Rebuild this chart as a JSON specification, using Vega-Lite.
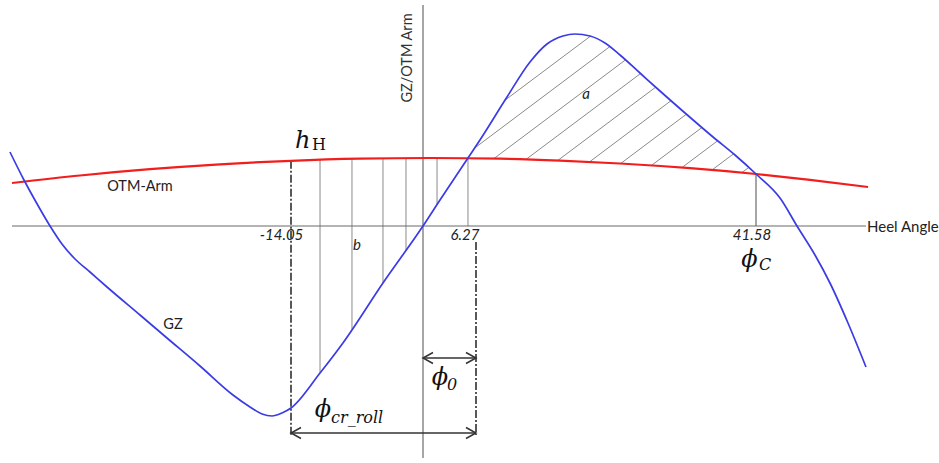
{
  "$schema": "https://vega.github.io/schema/vega-lite/v6.json",
  "width": 939,
  "height": 463,
  "autosize": {"type": "fit", "contains": "padding"},
  "padding": 0,
  "background": "white",
  "config": {"view": {"stroke": null}},
  "datasets": {
    "gz": [
      {"x": -43.94, "y": 0.74}, {"x": -42.45, "y": 0.46}, {"x": -41.17, "y": 0.24}, {"x": -39.68, "y": 0},
      {"x": -38.41, "y": -0.18}, {"x": -37.02, "y": -0.33}, {"x": -35.43, "y": -0.46}, {"x": -33.62, "y": -0.61},
      {"x": -30.11, "y": -0.89}, {"x": -27.24, "y": -1.12}, {"x": -23.73, "y": -1.4}, {"x": -20.22, "y": -1.69},
      {"x": -18.41, "y": -1.81}, {"x": -17.13, "y": -1.88}, {"x": -16.07, "y": -1.9}, {"x": -15.01, "y": -1.87},
      {"x": -14.05, "y": -1.82}, {"x": -10.96, "y": -1.47}, {"x": -8.52, "y": -1.17}, {"x": -4.26, "y": -0.57},
      {"x": 0, "y": 0}, {"x": 2.01, "y": 0.26}, {"x": 5.32, "y": 0.68}, {"x": 6.77, "y": 0.86},
      {"x": 10.18, "y": 1.29}, {"x": 13.08, "y": 1.64}, {"x": 15.22, "y": 1.82}, {"x": 17.24, "y": 1.9},
      {"x": 18.75, "y": 1.92}, {"x": 20.65, "y": 1.9}, {"x": 22.54, "y": 1.83}, {"x": 24.43, "y": 1.71},
      {"x": 26.95, "y": 1.53}, {"x": 29.47, "y": 1.35}, {"x": 32.63, "y": 1.13}, {"x": 36.16, "y": 0.89},
      {"x": 38.93, "y": 0.71}, {"x": 41.58, "y": 0.52}, {"x": 44.61, "y": 0.28}, {"x": 46.75, "y": 0},
      {"x": 49.02, "y": -0.29}, {"x": 50.91, "y": -0.57}, {"x": 53.18, "y": -0.97}, {"x": 55.45, "y": -1.41}
    ],
    "otm": [
      {"x": -43.72, "y": 0.43}, {"x": -36.49, "y": 0.505}, {"x": -29.05, "y": 0.568}, {"x": -21.6, "y": 0.617},
      {"x": -14.05, "y": 0.652}, {"x": -6.71, "y": 0.673}, {"x": 0.83, "y": 0.68}, {"x": 9.3, "y": 0.673},
      {"x": 16.86, "y": 0.654}, {"x": 24.43, "y": 0.625}, {"x": 33.26, "y": 0.578}, {"x": 41.58, "y": 0.52},
      {"x": 48.39, "y": 0.462}, {"x": 55.71, "y": 0.39}
    ],
    "hatch": [
      {"x": -10.96, "y": 0.663, "x2": -10.96, "y2": -1.47},
      {"x": -7.56, "y": 0.671, "x2": -7.56, "y2": -1.03},
      {"x": -4.26, "y": 0.677, "x2": -4.26, "y2": -0.57},
      {"x": -1.81, "y": 0.679, "x2": -1.81, "y2": -0.24},
      {"x": 1.66, "y": 0.68, "x2": 1.66, "y2": 0.21},
      {"x": 5.32, "y": 0.678, "x2": 5.32, "y2": 0},
      {"x": 9.91, "y": 1.257, "x2": 20.7, "y2": 1.898},
      {"x": 6.12, "y": 0.78, "x2": 23.13, "y2": 1.793},
      {"x": 8.53, "y": 0.674, "x2": 25.12, "y2": 1.661},
      {"x": 12.58, "y": 0.666, "x2": 27.03, "y2": 1.525},
      {"x": 16.57, "y": 0.655, "x2": 28.94, "y2": 1.389},
      {"x": 20.6, "y": 0.642, "x2": 30.86, "y2": 1.253},
      {"x": 24.52, "y": 0.625, "x2": 32.8, "y2": 1.118},
      {"x": 28.4, "y": 0.606, "x2": 34.77, "y2": 0.985},
      {"x": 32.25, "y": 0.585, "x2": 36.74, "y2": 0.852},
      {"x": 36.03, "y": 0.56, "x2": 38.75, "y2": 0.722},
      {"x": 39.8, "y": 0.534, "x2": 40.66, "y2": 0.585}
    ],
    "guides": [
      {"x": -43.72, "y": 0, "x2": 55.45, "y2": 0},
      {"x": 0, "y": 2.21, "x2": 0, "y2": -2.32},
      {"x": 41.58, "y": 0.52, "x2": 41.58, "y2": 0}
    ],
    "dashed": [
      {"x": -14.05, "y": 0.652, "x2": -14.05, "y2": -2.09},
      {"x": 6.27, "y": -0.16, "x2": 6.27, "y2": -2.09}
    ],
    "arrows": [
      {"x": 0, "y": -1.32, "x2": 6.27, "y2": -1.32},
      {"x": -14.05, "y": -2.07, "x2": 6.27, "y2": -2.07}
    ],
    "headsRight": [{"x": 6.27, "y": -1.32}, {"x": 6.27, "y": -2.07}],
    "headsLeft": [{"x": 0, "y": -1.32}, {"x": -14.05, "y": -2.07}],
    "sansLabels": [
      {"x": -30.11, "y": 0.39, "text": "OTM-Arm"},
      {"x": -26.6, "y": -0.99, "text": "GZ"}
    ],
    "axisTitleX": [{"x": 55.58, "y": -0.01, "text": "Heel Angle"}],
    "axisTitleY": [{"x": -1.6, "y": 1.68, "text": "GZ/OTM Arm"}],
    "italicLabels": [
      {"x": -15.06, "y": -0.09, "text": "-14.05"},
      {"x": 4.97, "y": -0.09, "text": "6.27"},
      {"x": 41.07, "y": -0.09, "text": "41.58"},
      {"x": -7.03, "y": -0.19, "text": "b"},
      {"x": 20.14, "y": 1.32, "text": "a"}
    ],
    "hLabel": [{"x": -13.62, "y": 0.78, "text": "h"}],
    "hSub": [{"x": -11.81, "y": 0.76, "text": "H"}],
    "phi": [
      {"x": 40.76, "y": -0.34, "text": "ϕ"},
      {"x": 2.01, "y": -1.52, "text": "ϕ"},
      {"x": -10.64, "y": -1.84, "text": "ϕ"}
    ],
    "phiSub": [
      {"x": 41.96, "y": -0.39, "text": "C"},
      {"x": 2.84, "y": -1.59, "text": "0"},
      {"x": -9.79, "y": -1.92, "text": "cr_roll"}
    ]
  },
  "encoding": {
    "x": {
      "field": "x", "type": "quantitative", "axis": null,
      "scale": {"domain": [-45, -14.05, 0, 6.27, 41.58, 64.66], "range": [0, 291, 423, 476, 756, 939]}
    },
    "y": {
      "field": "y", "type": "quantitative", "axis": null,
      "scale": {"domain": [-2.37, 2.26], "nice": false, "zero": false}
    }
  },
  "layer": [
    {
      "data": {"name": "hatch"},
      "mark": {"type": "rule", "color": "#8a8a8a", "strokeWidth": 1},
      "encoding": {"x2": {"field": "x2"}, "y2": {"field": "y2"}}
    },
    {
      "data": {"name": "guides"},
      "mark": {"type": "rule", "color": "#6b6b6b", "strokeWidth": 1.2},
      "encoding": {"x2": {"field": "x2"}, "y2": {"field": "y2"}}
    },
    {
      "data": {"name": "dashed"},
      "mark": {"type": "rule", "color": "#222222", "strokeWidth": 1.5, "strokeDash": [8, 2, 2, 2]},
      "encoding": {"x2": {"field": "x2"}, "y2": {"field": "y2"}}
    },
    {
      "data": {"name": "arrows"},
      "mark": {"type": "rule", "color": "#333333", "strokeWidth": 1.5},
      "encoding": {"x2": {"field": "x2"}, "y2": {"field": "y2"}}
    },
    {
      "data": {"name": "headsRight"},
      "mark": {"type": "point", "shape": "M-1,-0.55L0,0L-1,0.55", "size": 400, "filled": false, "color": "#333333", "strokeWidth": 1.5, "opacity": 1}
    },
    {
      "data": {"name": "headsLeft"},
      "mark": {"type": "point", "shape": "M1,-0.55L0,0L1,0.55", "size": 400, "filled": false, "color": "#333333", "strokeWidth": 1.5, "opacity": 1}
    },
    {
      "data": {"name": "otm"},
      "mark": {"type": "line", "color": "#f21d1d", "strokeWidth": 2.2, "interpolate": "monotone"}
    },
    {
      "data": {"name": "gz"},
      "mark": {"type": "line", "color": "#3b3be6", "strokeWidth": 1.7, "interpolate": "monotone"}
    },
    {
      "data": {"name": "sansLabels"},
      "mark": {"type": "text", "font": "Lato", "fontSize": 14.5, "color": "#222222", "align": "center", "baseline": "middle"},
      "encoding": {"text": {"field": "text"}}
    },
    {
      "data": {"name": "axisTitleX"},
      "mark": {"type": "text", "font": "Lato", "fontSize": 15, "color": "#222222", "align": "left", "baseline": "middle"},
      "encoding": {"text": {"field": "text"}}
    },
    {
      "data": {"name": "axisTitleY"},
      "mark": {"type": "text", "font": "Lato", "fontSize": 14.5, "color": "#333333", "align": "center", "baseline": "middle", "angle": 270},
      "encoding": {"text": {"field": "text"}}
    },
    {
      "data": {"name": "italicLabels"},
      "mark": {"type": "text", "font": "Lato", "fontSize": 15, "fontStyle": "italic", "color": "#222222", "align": "center", "baseline": "middle"},
      "encoding": {"text": {"field": "text"}}
    },
    {
      "data": {"name": "hLabel"},
      "mark": {"type": "text", "font": "DejaVu Serif", "fontSize": 24, "fontStyle": "italic", "color": "#111111", "align": "left", "baseline": "alphabetic"},
      "encoding": {"text": {"field": "text"}}
    },
    {
      "data": {"name": "hSub"},
      "mark": {"type": "text", "font": "DejaVu Serif", "fontSize": 16, "color": "#111111", "align": "left", "baseline": "alphabetic"},
      "encoding": {"text": {"field": "text"}}
    },
    {
      "data": {"name": "phi"},
      "mark": {"type": "text", "font": "DejaVu Serif", "fontSize": 24, "fontStyle": "italic", "color": "#111111", "align": "center", "baseline": "middle"},
      "encoding": {"text": {"field": "text"}}
    },
    {
      "data": {"name": "phiSub"},
      "mark": {"type": "text", "font": "DejaVu Serif", "fontSize": 16, "fontStyle": "italic", "color": "#111111", "align": "left", "baseline": "middle"},
      "encoding": {"text": {"field": "text"}}
    }
  ]
}
